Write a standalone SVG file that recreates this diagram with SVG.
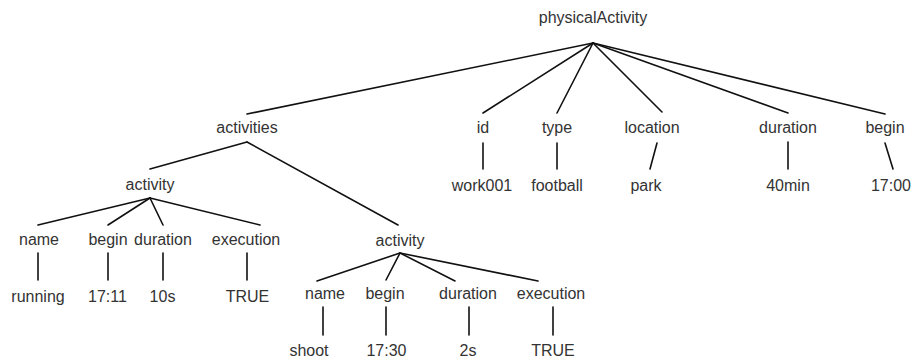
<svg xmlns="http://www.w3.org/2000/svg" width="916" height="360" viewBox="0 0 916 360">
<style>
text{font-family:"Liberation Sans",Arial,sans-serif;font-size:16px;fill:#333;text-anchor:middle}
.c line{stroke:#111;stroke-width:1.6;stroke-linecap:round}
</style>
<rect width="916" height="360" fill="#fff"/>
<g class="c" id="connectors">
<line x1="593" y1="43" x2="247" y2="114"/>
<line x1="593" y1="43" x2="483" y2="113"/>
<line x1="593" y1="43" x2="557" y2="113"/>
<line x1="593" y1="43" x2="662" y2="112"/>
<line x1="593" y1="43" x2="788" y2="113"/>
<line x1="593" y1="43" x2="885" y2="114"/>
<line x1="483" y1="143" x2="483" y2="169"/>
<line x1="557" y1="143" x2="557" y2="169"/>
<line x1="657" y1="143" x2="650" y2="169"/>
<line x1="788" y1="142" x2="788" y2="169"/>
<line x1="885" y1="143" x2="893" y2="169"/>
<line x1="247" y1="142" x2="150" y2="169"/>
<line x1="247" y1="142" x2="398" y2="225"/>
<line x1="150" y1="198" x2="38" y2="225"/>
<line x1="150" y1="198" x2="108" y2="225"/>
<line x1="150" y1="198" x2="163" y2="225"/>
<line x1="150" y1="198" x2="260" y2="225"/>
<line x1="38" y1="253" x2="38" y2="280"/>
<line x1="108" y1="253" x2="108" y2="280"/>
<line x1="163" y1="253" x2="163" y2="280"/>
<line x1="247" y1="253" x2="247" y2="280"/>
<line x1="400" y1="253" x2="317" y2="281"/>
<line x1="400" y1="253" x2="386" y2="280"/>
<line x1="400" y1="253" x2="455" y2="281"/>
<line x1="400" y1="253" x2="538" y2="281"/>
<line x1="323" y1="307" x2="323" y2="335"/>
<line x1="386" y1="307" x2="386" y2="335"/>
<line x1="469" y1="307" x2="469" y2="335"/>
<line x1="553" y1="307" x2="553" y2="335"/>
</g>
<g id="n-root"><text x="593" y="23">physicalActivity</text></g>
<g id="n-activities"><text x="247" y="133">activities</text></g>
<g id="n-id"><text x="483" y="133">id</text></g>
<g id="n-type"><text x="557" y="133">type</text></g>
<g id="n-location"><text x="652" y="133">location</text></g>
<g id="n-duration"><text x="788" y="133">duration</text></g>
<g id="n-begin"><text x="885" y="133">begin</text></g>
<g id="v-id"><text x="482" y="191">work001</text></g>
<g id="v-type"><text x="557" y="191">football</text></g>
<g id="v-location"><text x="646" y="191">park</text></g>
<g id="v-duration"><text x="788" y="191">40min</text></g>
<g id="v-begin"><text x="891" y="191">17:00</text></g>
<g id="n-activity1"><text x="150" y="190">activity</text></g>
<g id="n-a1-name"><text x="39" y="245">name</text></g>
<g id="n-a1-begin"><text x="108" y="245">begin</text></g>
<g id="n-a1-duration"><text x="163" y="245">duration</text></g>
<g id="n-a1-execution"><text x="246" y="245">execution</text></g>
<g id="v-a1-name"><text x="38" y="302">running</text></g>
<g id="v-a1-begin"><text x="107.5" y="302">17:11</text></g>
<g id="v-a1-duration"><text x="162.5" y="302">10s</text></g>
<g id="v-a1-execution"><text x="247.5" y="302">TRUE</text></g>
<g id="n-activity2"><text x="400" y="246">activity</text></g>
<g id="n-a2-name"><text x="325" y="299">name</text></g>
<g id="n-a2-begin"><text x="385" y="299">begin</text></g>
<g id="n-a2-duration"><text x="468" y="299">duration</text></g>
<g id="n-a2-execution"><text x="551" y="299">execution</text></g>
<g id="v-a2-name"><text x="309" y="356">shoot</text></g>
<g id="v-a2-begin"><text x="386.5" y="356">17:30</text></g>
<g id="v-a2-duration"><text x="468" y="356">2s</text></g>
<g id="v-a2-execution"><text x="553" y="356">TRUE</text></g>
</svg>
